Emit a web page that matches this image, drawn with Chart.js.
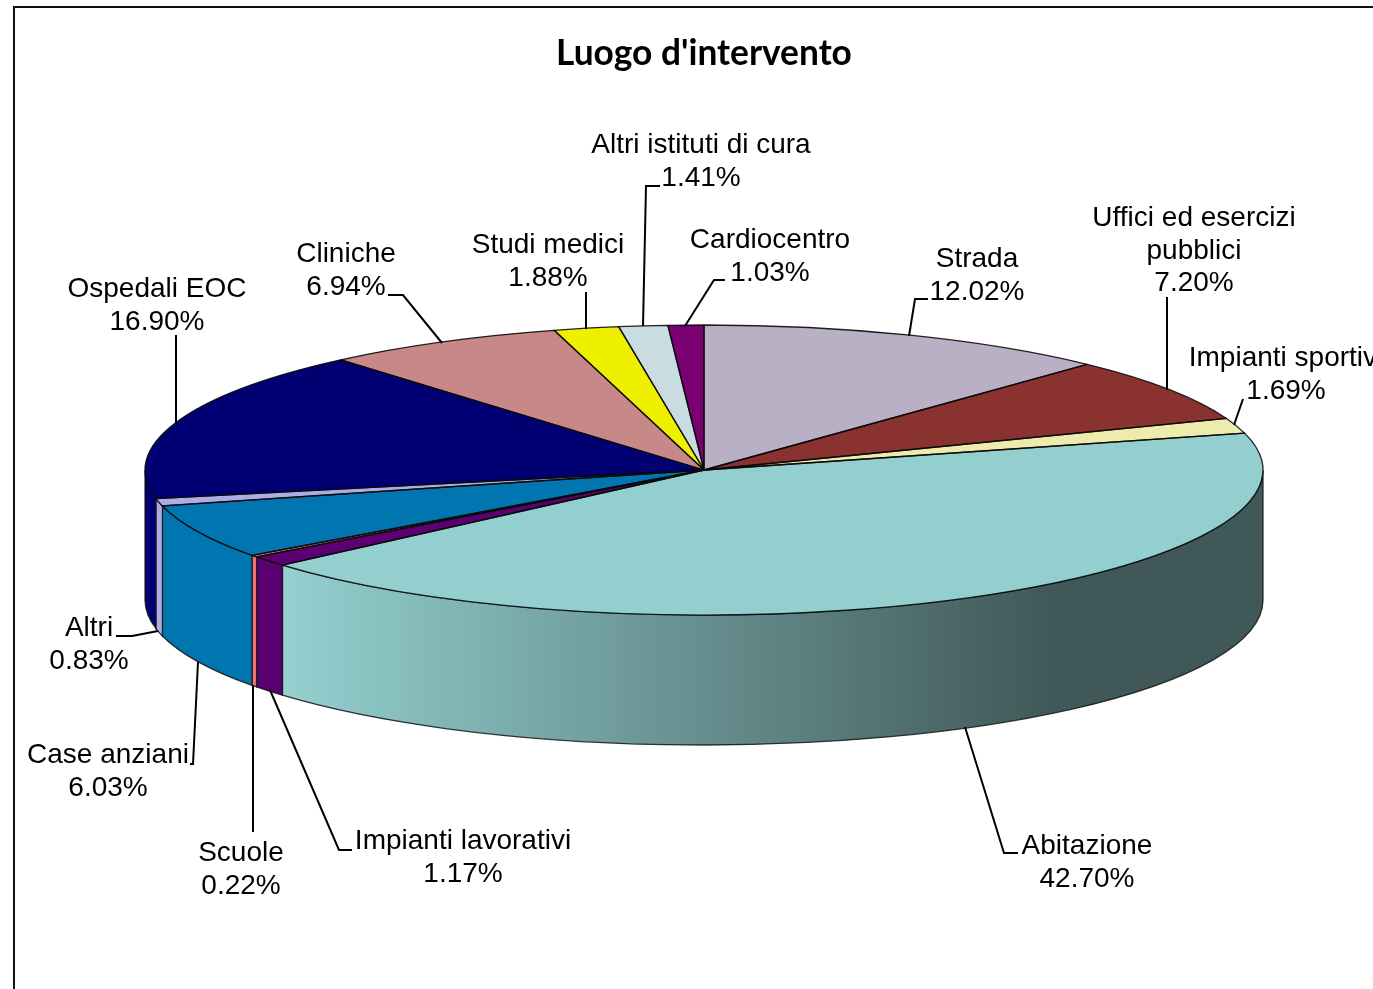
<!DOCTYPE html>
<html>
<head>
<meta charset="utf-8">
<style>html,body{margin:0;padding:0;background:#fff;overflow:hidden}canvas{display:block}</style>
<script src="https://cdn.jsdelivr.net/npm/chart.js@4"></script>
</head>
<body>
<canvas id="c" width="1373" height="989"></canvas>
<script>
const categories = ["Strada","Uffici ed esercizi pubblici","Impianti sportivi","Abitazione","Impianti lavorativi","Scuole","Case anziani","Altri","Ospedali EOC","Cliniche","Studi medici","Altri istituti di cura","Cardiocentro"];
const values = [12.02,7.20,1.69,42.70,1.17,0.22,6.03,0.83,16.90,6.94,1.88,1.41,1.03];
const topColors = ["#BAB0C6","#8A3230","#EEECAD","#93CFCF","#5A0070","#F07575","#0075B0","#ACACE8","#000073","#C78887","#EFEF00","#C9DCE2","#7A0072"];
const sideColors = ["#BAB0C6","#8A3230","#EEECAD",null,"#5A0070","#F07575","#0075B0","#ACACE8","#000073","#C78887","#EFEF00","#C9DCE2","#7A0072"];

// Appearance of the tilted pie
const pie3d = {cx:704, cy:470, rx:559, ry:145, depth:130};
const sideGradient = {x0:283, x1:1050, from:"#94D0D0", to:"#415858"};
const labelFont = "28px 'Liberation Sans', Arial, sans-serif";
const lineHeight = 32.5;
// Label placement: centre x, first-line centre y, wrapped text lines
const labelLayout = [
  {x:977,  y:259.5, lines:["Strada"]},
  {x:1194, y:218.5, lines:["Uffici ed esercizi","pubblici"]},
  {x:1286, y:358.5, lines:["Impianti sportivi"]},
  {x:1087, y:846.5, lines:["Abitazione"]},
  {x:463,  y:841.5, lines:["Impianti lavorativi"]},
  {x:241,  y:853.5, lines:["Scuole"]},
  {x:108,  y:755.5, lines:["Case anziani"]},
  {x:89,   y:628.5, lines:["Altri"]},
  {x:157,  y:289.5, lines:["Ospedali EOC"]},
  {x:346,  y:254.5, lines:["Cliniche"]},
  {x:548,  y:245.5, lines:["Studi medici"]},
  {x:701,  y:145.5, lines:["Altri istituti di cura"]},
  {x:770,  y:240.5, lines:["Cardiocentro"]}
];
const leaders = [
  [[928,299],[915,299],[909,336]],
  [[1167,297],[1167,390]],
  [[1243,399],[1234,425]],
  [[1018,853],[1004,853],[965,727]],
  [[352,850],[339,850],[270,690]],
  [[253,832],[253,685]],
  [[190,764],[193,764],[198,662]],
  [[116,636],[132,636],[158,631]],
  [[176,335],[176,424]],
  [[388,295],[403,295],[442,343]],
  [[586,292],[586,329]],
  [[660,186],[646,186],[643,326]],
  [[725,280],[714,280],[685,326]]
];

const frame = {
  id:'frame',
  beforeDraw(chart){
    const c = chart.ctx;
    c.save();
    c.strokeStyle = '#111'; c.lineWidth = 2;
    c.beginPath(); c.moveTo(14,chart.height); c.lineTo(14,7); c.lineTo(chart.width,7); c.stroke();
    c.restore();
  }
};

const tilt = {
  id:'tilt',
  beforeDatasetsDraw(chart){
    const c = chart.ctx, arcs = chart.getDatasetMeta(0).data, P = pie3d;
    // side wall, taken from each arc's own angles
    c.save();
    arcs.forEach((a,i)=>{
      const s = Math.max(a.startAngle,0), e = Math.min(a.endAngle,Math.PI);
      if (e <= s) return;
      let fill = sideColors[i];
      if (!fill){
        fill = c.createLinearGradient(sideGradient.x0,0,sideGradient.x1,0);
        fill.addColorStop(0,sideGradient.from);
        fill.addColorStop(1,sideGradient.to);
      }
      c.beginPath();
      c.ellipse(P.cx,P.cy,P.rx,P.ry,0,s,e);
      c.ellipse(P.cx,P.cy+P.depth,P.rx,P.ry,0,e,s,true);
      c.closePath();
      c.fillStyle = fill; c.fill();
      c.strokeStyle = 'rgba(20,20,20,.85)'; c.lineWidth = 1.3; c.stroke();
    });
    c.restore();
    // squash the library's pie into the ellipse
    const a0 = arcs[0], r = a0.outerRadius;
    c.save();
    c.translate(P.cx,P.cy);
    c.scale(P.rx/r,P.ry/r);
    c.translate(-a0.x,-a0.y);
  },
  afterDatasetsDraw(chart){
    const c = chart.ctx, arcs = chart.getDatasetMeta(0).data, P = pie3d;
    c.restore();
    c.save();
    c.strokeStyle = 'rgba(10,10,10,.9)'; c.lineWidth = 1.3; c.lineJoin = 'round';
    arcs.forEach(a=>{
      c.beginPath();
      c.moveTo(P.cx,P.cy);
      c.ellipse(P.cx,P.cy,P.rx,P.ry,0,a.startAngle,a.endAngle);
      c.closePath();
      c.stroke();
    });
    c.restore();
  }
};

const labelsPlugin = {
  id:'pieLabels',
  afterDraw(chart){
    const c = chart.ctx;
    c.save();
    c.strokeStyle = '#000'; c.lineWidth = 2; c.lineJoin = 'miter';
    leaders.forEach(pts=>{
      c.beginPath();
      pts.forEach((p,i)=> i ? c.lineTo(p[0],p[1]) : c.moveTo(p[0],p[1]));
      c.stroke();
    });
    c.font = labelFont; c.fillStyle = '#000';
    c.textAlign = 'center'; c.textBaseline = 'middle';
    labelLayout.forEach((l,i)=>{
      const rows = l.lines.concat(values[i].toFixed(2)+'%');
      rows.forEach((t,j)=> c.fillText(t,l.x,l.y+j*lineHeight));
    });
    c.restore();
  }
};

new Chart(document.getElementById('c'),{
  type:'pie',
  data:{labels:categories,datasets:[{data:values,backgroundColor:topColors,borderWidth:0,clip:false}]},
  options:{
    responsive:false,
    animation:false,
    events:[],
    layout:{padding:{left:35,top:0,right:0,bottom:0}},
    plugins:{
      legend:{display:false},
      tooltip:{enabled:false},
      title:{display:true,text:"Luogo d'intervento",color:'#000',
        font:{family:"Lato, Carlito, sans-serif",size:35.3,weight:'bold'},
        padding:{top:32,bottom:10}}
    }
  },
  plugins:[frame,tilt,labelsPlugin]
});
</script>
</body>
</html>
